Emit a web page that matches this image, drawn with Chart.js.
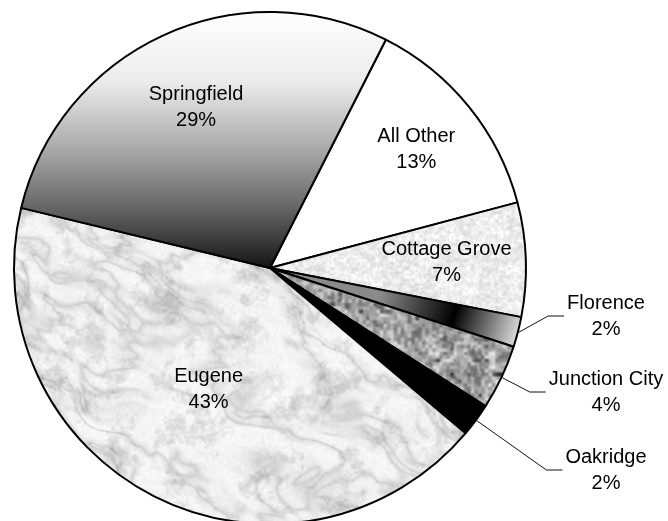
<!DOCTYPE html>
<html>
<head>
<meta charset="utf-8">
<script src="https://cdn.jsdelivr.net/npm/chart.js@4.4.1/dist/chart.umd.min.js"></script>
<style>
  html, body { margin: 0; padding: 0; background: #fff; overflow: hidden; }
  #wrap { width: 668px; height: 521px; overflow: hidden; }
</style>
</head>
<body>
<div id="wrap"><canvas id="pie" width="668" height="540"></canvas></div>
<script>
// slices, clockwise from the top-right boundary
const cities = ['All Other', 'Cottage Grove', 'Florence', 'Junction City', 'Oakridge', 'Eugene', 'Springfield']
const shares = [13.4, 7.2, 1.9, 4.1, 2.1, 42.6, 28.7]
const calloutCities = ['Florence', 'Junction City', 'Oakridge']

const W = 668
const H = 540
const FONT = '20px "Liberation Sans", Arial, sans-serif'

// small seeded generator so the stone textures look the same on every run
const mulberry32 = (seed) => () => {
  seed |= 0
  seed = (seed + 0x6D2B79F5) | 0
  let t = Math.imul(seed ^ (seed >>> 15), 1 | seed)
  t = (t + Math.imul(t ^ (t >>> 7), 61 | t)) ^ t
  return ((t ^ (t >>> 14)) >>> 0) / 4294967296
}

// value noise; cx/cy are the cell sizes, the grid is big enough for rotated coords too
const valueNoise = (seed, cx, cy = cx) => {
  const rnd = mulberry32(seed)
  const span = W + H
  const gw = Math.ceil((2 * span) / cx) + 3
  const gh = Math.ceil((2 * span) / cy) + 3
  const grid = new Float32Array(gw * gh)
  for (let i = 0; i < grid.length; i++) grid[i] = rnd()
  return (x, y) => {
    const fx = (x + span) / cx
    const fy = (y + span) / cy
    const ix = Math.floor(fx)
    const iy = Math.floor(fy)
    let tx = fx - ix
    let ty = fy - iy
    tx = tx * tx * (3 - 2 * tx)
    ty = ty * ty * (3 - 2 * ty)
    const a = grid[iy * gw + ix]
    const b = grid[iy * gw + ix + 1]
    const c = grid[(iy + 1) * gw + ix]
    const d = grid[(iy + 1) * gw + ix + 1]
    return (a + (b - a) * tx) * (1 - ty) + (c + (d - c) * tx) * ty
  }
}

const makeTexture = (shade) => {
  const cv = document.createElement('canvas')
  cv.width = W
  cv.height = H
  const c = cv.getContext('2d')
  const img = c.createImageData(W, H)
  for (let y = 0; y < H; y++) {
    for (let x = 0; x < W; x++) {
      const g = Math.max(0, Math.min(255, shade(x, y)))
      const i = (y * W + x) * 4
      img.data[i] = g
      img.data[i + 1] = g
      img.data[i + 2] = g
      img.data[i + 3] = 255
    }
  }
  c.putImageData(img, 0, 0)
  return c.createPattern(cv, 'repeat')
}

const marble = () => {
  // streaks run diagonally, so the noise is stretched along a rotated axis
  const a = -0.55
  const ca = Math.cos(a)
  const sa = Math.sin(a)
  const w1 = valueNoise(9, 45)
  const n1 = valueNoise(11, 70, 30)
  const n2 = valueNoise(12, 30, 12)
  const n3 = valueNoise(13, 12, 6)
  const c1 = valueNoise(21, 26)
  const c2 = valueNoise(22, 11)
  const c3 = valueNoise(23, 5)
  const c4 = valueNoise(24, 2.5)
  return makeTexture((x, y) => {
    const warp = 40 * (w1(x, y) - 0.5)
    const u = x * ca - y * sa + warp
    const v = x * sa + y * ca - warp
    const n = 0.5 * n1(u, v) + 0.32 * n2(u, v) + 0.18 * n3(u, v)
    const vein = (1 - Math.abs(n - 0.5) * 2) ** 6
    const cloud = 0.4 * c1(x, y) + 0.3 * c2(x, y) + 0.2 * c3(x, y) + 0.1 * c4(x, y)
    return 246 - 38 * vein - 110 * Math.max(0, cloud - 0.52) - 10 * (c4(x, y) - 0.5)
  })
}

const lightGranite = () => {
  const n1 = valueNoise(31, 2)
  const n2 = valueNoise(32, 4)
  const n3 = valueNoise(33, 14)
  return makeTexture((x, y) => 236 + 26 * (n1(x, y) - 0.5) + 24 * (n2(x, y) - 0.5) - 12 * (n3(x, y) - 0.5))
}

const darkGranite = () => {
  const n1 = valueNoise(41, 3.5)
  const n2 = valueNoise(42, 7)
  const n3 = valueNoise(43, 18)
  return makeTexture((x, y) => {
    const spot = Math.max(0, 0.32 - n2(x + 300, y)) * 260
    return 168 + 80 * (n1(x, y) - 0.5) + 60 * (n2(x, y) - 0.5) - 30 * (n3(x, y) - 0.5) - spot
  })
}

const circleOf = (chart) => {
  const { left, right, top, bottom } = chart.chartArea
  return { cx: (left + right) / 2, cy: (top + bottom) / 2, r: Math.min(right - left, bottom - top) / 2 }
}

const springGradient = (chart) => {
  const { cy, r } = circleOf(chart)
  const g = chart.ctx.createLinearGradient(0, cy - r, 0, cy)
  g.addColorStop(0, '#ffffff')
  g.addColorStop(0.27, '#ececec')
  g.addColorStop(0.54, '#a8a8a8')
  g.addColorStop(0.77, '#646464')
  g.addColorStop(1, '#151515')
  return g
}

const florenceGradient = (chart) => {
  const { cx, cy, r } = circleOf(chart)
  const g = chart.ctx.createLinearGradient(cx + r * 0.43, cy + 28, cx + r, cy + 75)
  g.addColorStop(0, '#8a8a8a')
  g.addColorStop(0.5, '#000000')
  g.addColorStop(1, '#ffffff')
  return g
}

const fills = {
  'All Other': '#ffffff',
  'Cottage Grove': lightGranite(),
  Florence: florenceGradient,
  'Junction City': darkGranite(),
  Oakridge: '#000000',
  Eugene: marble(),
  Springfield: springGradient,
}

const sliceFill = (ctx) => {
  const f = fills[cities[ctx.dataIndex]]
  if (typeof f !== 'function') return f
  return ctx.chart.chartArea ? f(ctx.chart) : '#888'
}

const labelRadius = { Eugene: 0.53, 'All Other': 0.735 }

const total = shares.reduce((a, b) => a + b, 0)
const pctText = (v) => `${Math.round((v / total) * 100)}%`

const sliceLabels = {
  id: 'sliceLabels',
  afterDatasetsDraw(chart) {
    const { ctx } = chart
    const arcs = chart.getDatasetMeta(0).data
    ctx.save()
    ctx.font = FONT
    ctx.fillStyle = '#000'
    ctx.textAlign = 'center'
    ctx.textBaseline = 'middle'
    const calloutY = [316, 392, 470]
    const columnX = 606
    arcs.forEach((arc, i) => {
      const {
        x, y, startAngle, endAngle, outerRadius,
      } = arc.getProps(['x', 'y', 'startAngle', 'endAngle', 'outerRadius'], true)
      const mid = (startAngle + endAngle) / 2
      const name = cities[i]
      const lines = [name, pctText(shares[i])]
      const k = calloutCities.indexOf(name)
      if (k < 0) {
        const r = outerRadius * (labelRadius[name] || 0.69)
        const tx = x + Math.cos(mid) * r
        const ty = y + Math.sin(mid) * r
        ctx.fillText(lines[0], tx, ty - 13)
        ctx.fillText(lines[1], tx, ty + 13)
        return
      }
      const by = calloutY[k]
      const wMax = Math.max(...lines.map((t) => ctx.measureText(t).width))
      const endX = columnX - wMax / 2 - 3
      const elbowX = endX - 16
      ctx.beginPath()
      ctx.moveTo(x + Math.cos(mid) * (outerRadius + 1), y + Math.sin(mid) * (outerRadius + 1))
      ctx.lineTo(elbowX, by)
      ctx.lineTo(endX, by)
      ctx.strokeStyle = '#111'
      ctx.lineWidth = 1
      ctx.stroke()
      ctx.fillText(lines[0], columnX, by - 13)
      ctx.fillText(lines[1], columnX, by + 13)
    })
    ctx.restore()
  },
}

const chart = new Chart(document.getElementById('pie'), {
  type: 'pie',
  data: {
    labels: cities,
    datasets: [{
      data: shares,
      backgroundColor: sliceFill,
      borderColor: '#000',
      borderWidth: 2,
    }],
  },
  options: {
    responsive: false,
    animation: false,
    rotation: 26.9,
    radius: 256,
    layout: {
      padding: {
        left: 14, top: 12, right: 142, bottom: 16,
      },
    },
    plugins: {
      legend: { display: false },
      tooltip: { enabled: false },
    },
  },
  plugins: [sliceLabels],
})
</script>
</body>
</html>
